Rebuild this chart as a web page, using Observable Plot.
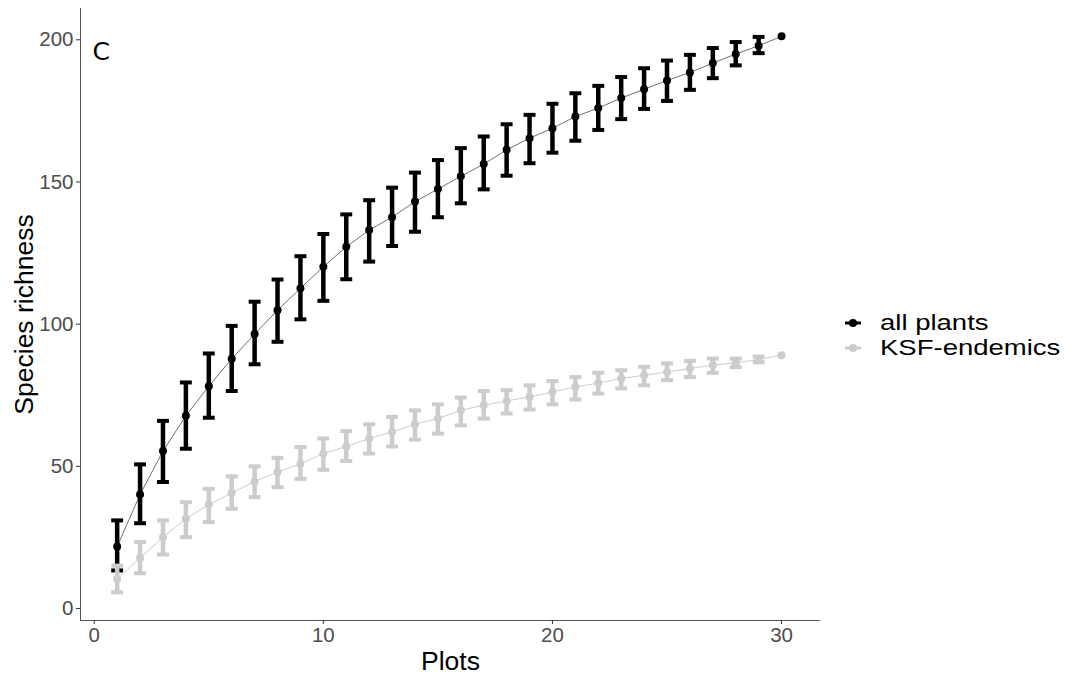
<!DOCTYPE html>
<html><head><meta charset="utf-8">
<script src="https://cdn.jsdelivr.net/npm/d3@7"></script>
<script src="https://cdn.jsdelivr.net/npm/@observablehq/plot@0.6"></script>
<style>
body{margin:0;background:#fff}
#wrap{position:relative;width:1067px;height:682px;font-family:"Liberation Sans",Arial,sans-serif}
#legend{position:absolute;left:843px;top:310px}
.row{display:flex;align-items:center;height:25px;font-size:22px;line-height:25px;color:#000;white-space:nowrap}
.row svg{margin-right:17px}
.row span{display:inline-block;transform:scaleX(1.25);transform-origin:left center}
</style></head>
<body><div id="wrap"><div id="chart"></div><div id="legend"></div></div>
<script>
const plots = [1,2,3,4,5,6,7,8,9,10,11,12,13,14,15,16,17,18,19,20,21,22,23,24,25,26,27,28,29,30];
const allMean = [21.8,40.1,55.4,67.8,78.2,87.8,96.5,104.9,112.6,120.2,127.2,133.1,137.6,143.1,147.5,152,156.3,161.3,165.4,168.9,173,176,179.5,182.6,185.7,188.5,191.8,195,197.9,201.2];
const allLo = [13.4,30,44.5,56.2,67.1,76.5,85.9,93.8,101.7,108.2,115.8,122,127.5,132.5,137.6,142.5,147.4,152.2,156.6,160.3,164.5,168.3,172.1,175.7,178.5,182.4,186.5,191,195.3,201.2];
const allHi = [31,50.7,66,79.5,89.7,99.4,107.9,115.7,123.9,131.7,138.6,143.6,148,153.3,157.7,161.9,166,170.3,173.6,177.5,181.2,183.8,186.9,190,192.7,194.7,197.1,199.2,201,201.2];
const endMean = [10.4,17.8,25.1,31.6,36.6,40.6,44.7,48,50.9,54.5,57,59.8,62.1,64.8,66.8,69.7,71.5,73,74.4,76.2,77.9,79.3,80.9,82,83.2,84.4,85.6,86.4,87.6,89.1];
const endLo = [5.7,12.4,19,25.1,30.4,35.1,39.2,42.7,45.6,48.8,51.9,54.5,57,59.4,61.5,64.4,66.8,68.6,70,71.8,73.5,75.6,77.4,78.5,80.3,81.4,82.9,84.9,86.6,89.1];
const endHi = [15.1,23.4,31,37.4,42.1,46.5,50,53,56.8,59.8,62.4,64.8,67.4,69.7,71.8,74.2,76.5,76.8,78.5,80,81.4,82.9,83.8,85,86.2,87.1,87.9,87.9,88.6,89.1];
const seriesNames = ["all plants","KSF-endemics"];
const seriesColors = ["#000000","#cccccc"];
const lineColors = ["#333333","#cccccc"];
const xTicks = [0,10,20,30];
const yTicks = [0,50,100,150,200];
const xDomain = [-0.6,31.7];
const yDomain = [-4.2,211];
const panelLabel = "C";
const xTitle = "Plots";
const yTitle = "Species richness";

const capHalf = 0.26;
const seriesData = [
  plots.map((p,i)=>({x:p, m:allMean[i], lo:allLo[i], hi:allHi[i]})),
  plots.map((p,i)=>({x:p, m:endMean[i], lo:endLo[i], hi:endHi[i]}))
];

const marks = [
  Plot.ruleX([xDomain[0]], {stroke:"#555", strokeWidth:1}),
  Plot.ruleY([yDomain[0]], {stroke:"#555", strokeWidth:1}),
  Plot.axisX({ticks:xTicks, tickSize:4, tickPadding:3, fontSize:20.5, fill:"#4d4d4d", stroke:"#333", label:null}),
  Plot.axisY({ticks:yTicks, tickSize:4, tickPadding:3, fontSize:20.5, fill:"#4d4d4d", stroke:"#333", label:null})
];
seriesData.forEach((rows, k) => {
  const bars = rows.filter(d => d.hi > d.lo);
  const c = seriesColors[k];
  marks.push(
    Plot.line(rows, {x:"x", y:"m", stroke:lineColors[k], strokeWidth:k===0?0.7:1}),
    Plot.ruleX(bars, {x:"x", y1:"lo", y2:"hi", stroke:c, strokeWidth:4.5}),
    Plot.link(bars, {x1:d=>d.x-capHalf, x2:d=>d.x+capHalf, y1:"lo", y2:"lo", stroke:c, strokeWidth:4}),
    Plot.link(bars, {x1:d=>d.x-capHalf, x2:d=>d.x+capHalf, y1:"hi", y2:"hi", stroke:c, strokeWidth:4}),
    Plot.dot(rows, {x:"x", y:"m", r:4, fill:c, stroke:"none"})
  );
});
marks.push(
  Plot.text([panelLabel], {frameAnchor:"top-left", dx:12, dy:43, text:d=>d, fontSize:25, fontFamily:"DejaVu Sans", fontWeight:"normal", textAnchor:"start", lineAnchor:"middle", fill:"#000"}),
  Plot.text([xTitle], {frameAnchor:"bottom", dy:41, text:d=>d, fontSize:26.5, textAnchor:"middle", lineAnchor:"middle", fill:"#000"}),
  Plot.text([yTitle], {frameAnchor:"left", dx:-56, rotate:-90, text:d=>d, fontSize:26.5, textAnchor:"middle", lineAnchor:"middle", fill:"#000"})
);

const chart = Plot.plot({
  width:1067, height:682,
  marginLeft:80, marginRight:247, marginTop:8, marginBottom:62,
  x:{domain:xDomain}, y:{domain:yDomain},
  style:{fontFamily:'"Liberation Sans", Arial, sans-serif', background:"#fff"},
  marks
});
document.getElementById("chart").appendChild(chart);

const legend = document.getElementById("legend");
seriesNames.forEach((name,k) => {
  const row = document.createElement("div");
  row.className = "row";
  row.innerHTML = `<svg width="20" height="14"><line x1="2" x2="18" y1="7" y2="7" stroke="${seriesColors[k]}" stroke-width="3"/><circle cx="10" cy="7" r="4" fill="${seriesColors[k]}"/></svg><span>${name}</span>`;
  legend.appendChild(row);
});
</script></body></html>
